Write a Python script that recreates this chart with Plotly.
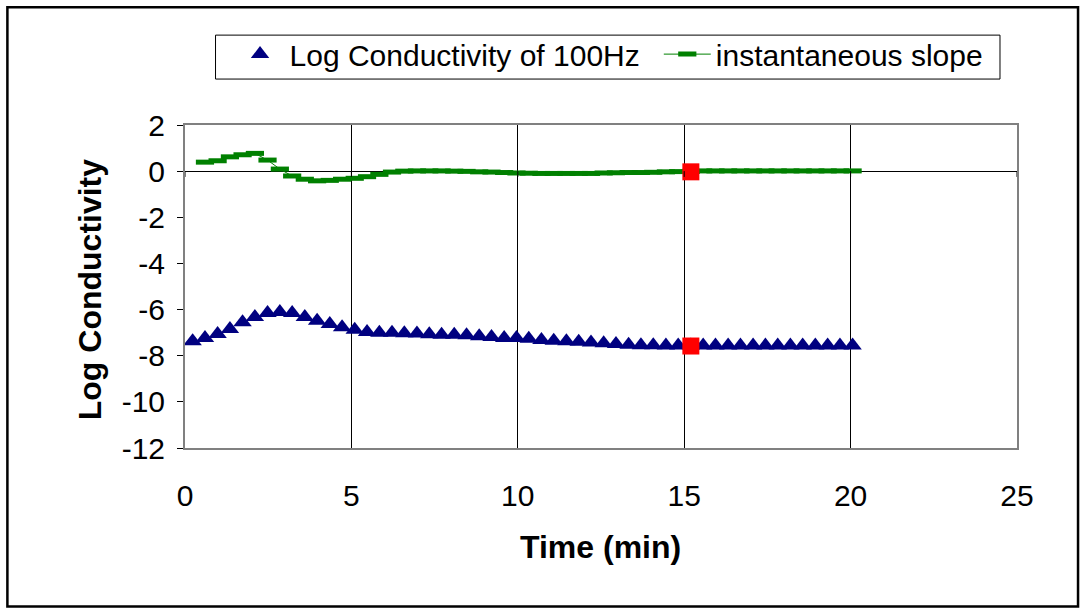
import plotly.graph_objects as go

# ---- data ----
time_min = [0.23, 0.60, 0.98, 1.35, 1.73, 2.10, 2.48, 2.85, 3.22, 3.60,
            3.97, 4.35, 4.72, 5.10, 5.47, 5.84, 6.22, 6.59, 6.97, 7.34,
            7.71, 8.09, 8.46, 8.84, 9.21, 9.59, 9.96, 10.33, 10.71, 11.08,
            11.46, 11.83, 12.20, 12.58, 12.95, 13.33, 13.70, 14.07, 14.45, 14.82,
            15.20, 15.57, 15.94, 16.32, 16.69, 17.07, 17.44, 17.81, 18.19, 18.56,
            18.94, 19.31, 19.68, 20.06]

log_cond = [-7.37, -7.23, -7.06, -6.84, -6.55, -6.32, -6.15, -6.10, -6.15, -6.32,
            -6.48, -6.62, -6.77, -6.88, -6.97, -7.01, -7.01, -7.03, -7.04, -7.07,
            -7.09, -7.09, -7.11, -7.16, -7.19, -7.23, -7.23, -7.27, -7.32, -7.35,
            -7.37, -7.40, -7.43, -7.46, -7.49, -7.52, -7.55, -7.55, -7.56, -7.56,
            -7.56, -7.56, -7.56, -7.56, -7.56, -7.56, -7.56, -7.56, -7.56, -7.56,
            -7.56, -7.56, -7.56, -7.56]

slope_time = time_min[1:]
slope = [0.39, 0.45, 0.62, 0.71, 0.77, 0.48, 0.09, -0.21, -0.35,
         -0.42, -0.40, -0.35, -0.31, -0.24, -0.14, -0.04, 0.00, 0.01, 0.01,
         0.01, 0.00, -0.01, -0.03, -0.04, -0.06, -0.08, -0.09, -0.10, -0.10,
         -0.10, -0.10, -0.10, -0.08, -0.07, -0.06, -0.06, -0.05, -0.03, -0.02,
         -0.01, 0.01, 0.01, 0.01, 0.01, 0.01, 0.01, 0.01, 0.01, 0.01,
         0.01, 0.01, 0.01, 0.01]

highlight_time = [15.20, 15.20]
highlight_vals = [-7.58, -0.03]

x_ticks = [0, 5, 10, 15, 20, 25]
x_ticktext = ["0", "5", "10", "15", "20", "25"]
y_ticks = [2, 0, -2, -4, -6, -8, -10, -12]
y_ticktext = ["2", "0", "-2", "-4", "-6", "-8", "-10", "-12"]

FONT = "Liberation Sans, Arial, sans-serif"

# plot-area pixel geometry used to place paper-referenced decorations
PL, PR, PT, PB = 185.5, 1017.0, 125.0, 448.4


def px_x(p):
    return (p - PL) / (PR - PL)


def px_y(p):
    return (PB - p) / (PB - PT)


fig = go.Figure()
fig.add_trace(go.Scatter(
    x=time_min, y=log_cond, mode="markers", name="Log Conductivity of 100Hz",
    marker=dict(symbol="triangle-up", size=16, color="#000080"),
    legend="legend",
))
fig.add_trace(go.Scatter(
    x=slope_time, y=slope, mode="lines+markers", name="instantaneous slope",
    line=dict(color="#008000", width=1),
    marker=dict(symbol="line-ew", size=13, color="#008000",
                line=dict(color="#008000", width=5)),
    legend="legend2",
))
fig.add_trace(go.Scatter(
    x=highlight_time, y=highlight_vals, mode="markers", showlegend=False,
    marker=dict(symbol="square", size=17, color="#FF0000"),
))

shapes = []
# small tick marks on the horizontal axis that crosses at y = 0
for t in x_ticks:
    shapes.append(dict(type="line", xref="x", yref="y", x0=t, x1=t, y0=0, y1=-0.25,
                       line=dict(color="black", width=1)))
# outer chart border
shapes.append(dict(type="rect", xref="paper", yref="paper",
                   x0=px_x(8), x1=px_x(1078), y0=px_y(607), y1=px_y(7),
                   line=dict(color="black", width=2.5), fillcolor="rgba(0,0,0,0)"))
# legend frame
shapes.append(dict(type="rect", xref="paper", yref="paper",
                   x0=px_x(216), x1=px_x(1000), y0=px_y(79), y1=px_y(35),
                   line=dict(color="black", width=1), fillcolor="rgba(0,0,0,0)"))

legend_common = dict(orientation="h", xanchor="left", y=px_y(28), yanchor="top",
                     borderwidth=0, bgcolor="rgba(0,0,0,0)",
                     font=dict(size=30, family=FONT))

fig.update_layout(
    width=1088, height=615,
    margin=dict(l=185, r=71, t=125, b=167),
    paper_bgcolor="white", plot_bgcolor="white",
    font=dict(family=FONT, color="black"),
    showlegend=True,
    legend=dict(x=px_x(231), itemwidth=49, **legend_common),
    legend2=dict(x=px_x(659), itemwidth=47, **legend_common),
    shapes=shapes,
    annotations=[
        dict(text="<b>Time (min)</b>", xref="paper", yref="paper",
             x=px_x(601), y=px_y(548), xanchor="center", yanchor="middle",
             showarrow=False, font=dict(size=32, family=FONT)),
        dict(text="<b>Log Conductivity</b>", xref="paper", yref="paper",
             x=px_x(90), y=px_y(289), textangle=-90,
             xanchor="center", yanchor="middle",
             showarrow=False, font=dict(size=32, family=FONT)),
    ],
)
fig.update_xaxes(range=[0, 25], tickvals=x_ticks, ticktext=x_ticktext, ticks="",
                 showgrid=True, gridcolor="black", gridwidth=1, zeroline=False,
                 showline=True, linecolor="#808080", linewidth=2, mirror=True,
                 tickfont=dict(size=30), ticklabelstandoff=20)
fig.update_yaxes(range=[-12, 2], tickvals=y_ticks, ticktext=y_ticktext,
                 ticks="outside", ticklen=6, tickcolor="black", showgrid=False,
                 zeroline=True, zerolinecolor="black", zerolinewidth=1,
                 showline=True, linecolor="#808080", linewidth=2, mirror=True,
                 tickfont=dict(size=30), ticklabelstandoff=6)

fig.write_html("out.html")
